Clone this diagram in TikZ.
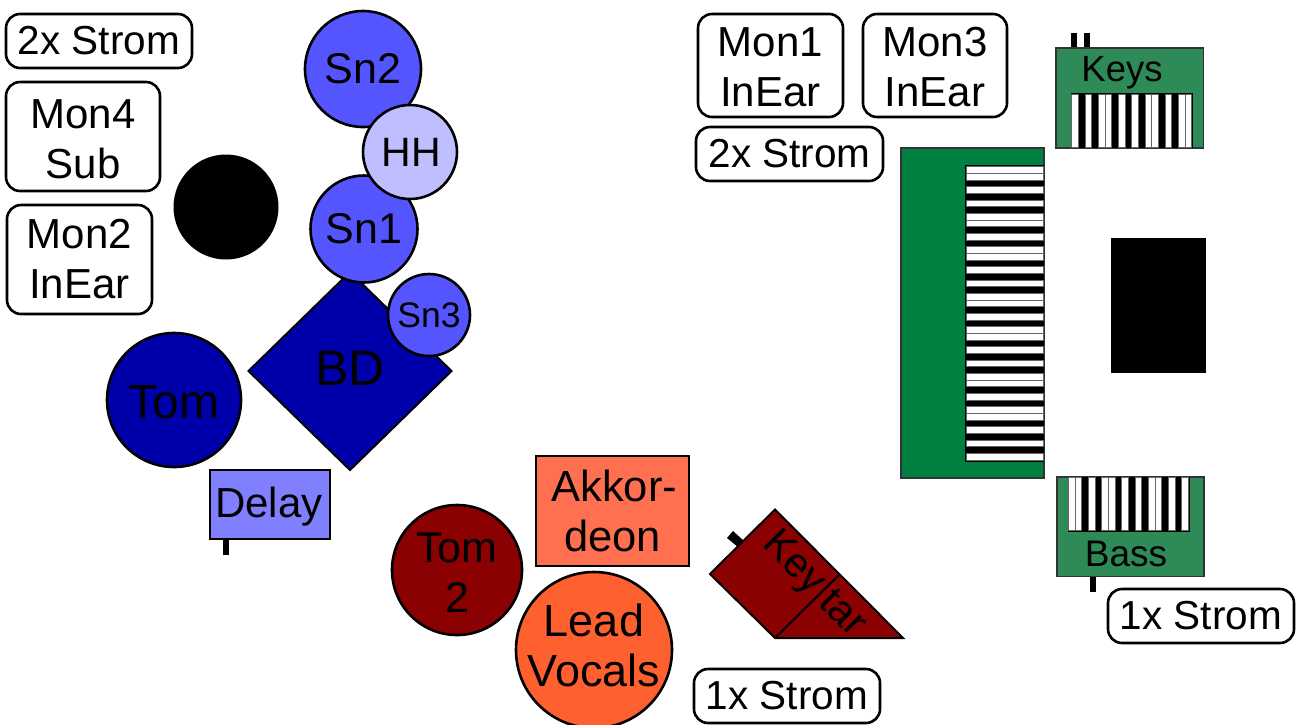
\documentclass[tikz,border=0pt]{standalone}
\usepackage{fontspec}
\setmainfont{Liberation Sans}
\usetikzlibrary{shapes.geometric}
\definecolor{snblue}{HTML}{5555FF}
\definecolor{hhblue}{HTML}{BFBFFF}
\definecolor{dkblue}{HTML}{0000AA}
\definecolor{delayblue}{HTML}{8080FF}
\definecolor{dkred}{HTML}{8B0000}
\definecolor{akk}{HTML}{FF7050}
\definecolor{lead}{HTML}{FF6030}
\definecolor{biggreen}{HTML}{008040}
\definecolor{seag}{HTML}{2E8B57}
\tikzset{
  x=1pt,y=-1pt,
  base/.style={inner sep=0pt,outer sep=0pt,align=center,text=black},
  txt/.style={base,font=\fontsize{42}{50}\selectfont},
  lbl/.style={base,draw=black,line width=2.6pt,rounded corners=14pt,fill=white,font=\fontsize{42}{50}\selectfont},
  strom/.style={lbl,font=\fontsize{40.5}{50}\selectfont,minimum height=54pt},
  drum/.style={base,circle,draw=black,line width=2.6pt,font=\fontsize{43}{50}\selectfont},
  sq/.style={base,rectangle,draw=black,line width=2pt,font=\fontsize{43}{50}\selectfont},
  green/.style={draw=black!80,line width=1.4pt},
  whitekey/.style={fill=white,draw=black!60,line width=0.8pt},
  plug/.style={fill=black,draw=none},
}
\begin{document}
\begin{tikzpicture}
\useasboundingbox (0,0) rectangle (1300,724);
% labels
\node[strom,minimum width=186pt] (s1) at (99,41) {2x Strom};
\node[lbl,minimum width=154pt,minimum height=109pt,label={[txt,yshift=-3pt]center:{Mon4\\Sub}}] (m4) at (83,136.5) {};
\node[lbl,minimum width=145pt,minimum height=109pt] (m2) at (79.5,259.5) {Mon2\\InEar};
\node[lbl,minimum width=145pt,minimum height=103pt,label={[txt,yshift=-1.5pt]center:{Mon1\\InEar}}] (m1) at (770.5,65.5) {};
\node[lbl,minimum width=144pt,minimum height=103pt,label={[txt,yshift=-1.5pt]center:{Mon3\\InEar}}] (m3) at (935,65.5) {};
\node[strom,minimum width=187pt] (s2) at (789.5,154) {2x Strom};
\node[strom,minimum width=186pt] (s3) at (1201,616) {1x Strom};
\node[strom,minimum width=186pt] (s4) at (787,696) {1x Strom};
% drums
\node[base,circle,fill=black,minimum size=105pt] (amp) at (226,207) {};
\node[drum,fill=snblue,minimum size=116pt] (sn2) at (363,69) {Sn2};
\node[base,diamond,aspect=1,draw=black,line width=2pt,fill=dkblue,minimum width=203pt,minimum height=198pt,label={[base,font=\fontsize{50}{50}\selectfont,yshift=3pt]center:BD}] (bd) at (350,371) {};
\node[drum,fill=snblue,minimum size=107pt] (sn1) at (364,229) {Sn1};
\node[drum,fill=hhblue,minimum size=94pt,label={[base,font=\fontsize{41}{40}\selectfont,xshift=1.5pt]center:HH}] (hh) at (410,152) {};
\node[drum,fill=snblue,minimum size=82pt,font=\fontsize{35.5}{36}\selectfont] (sn3) at (429,315) {Sn3};
\node[drum,fill=dkblue,minimum size=134pt,label={[base,font=\fontsize{48}{50}\selectfont,yshift=-2.5pt]center:Tom}] (tom) at (174,400) {};
% delay
\node[plug,base,fill=black,minimum width=6pt,minimum height=17pt] (dplug) at (226,546.5) {};
\node[sq,fill=delayblue,minimum width=120pt,minimum height=69pt,label={[base,font=\fontsize{42}{50}\selectfont,yshift=-2.5pt,xshift=-1pt]center:Delay}] (delay) at (270,504.5) {};
% front
\node[sq,fill=akk,minimum width=153pt,minimum height=110pt,font=\fontsize{43.5}{50}\selectfont] (akk) at (612.5,511) {\hspace{3.5pt}Akkor-\\deon};
\node[drum,fill=dkred,minimum size=130pt,label={[base,font=\fontsize{43}{50}\selectfont,yshift=-2.5pt]center:{Tom\\2}}] (tom2) at (457,570) {};
\node[drum,fill=lead,minimum size=156pt,label={[base,font=\fontsize{45}{50}\selectfont,yshift=5pt]center:{Lead\\Vocals}}] (lv) at (594,650) {};
% keytar
\draw[plug,line width=0pt] (727,538) -- (733,531) -- (744,541) -- (738,547) -- cycle;
\coordinate (ka) at (775,509.5);
\coordinate (kb) at (710,574);
\coordinate (kc) at (775,638);
\coordinate (kd) at (903,638);
\coordinate (ke) at (839,575);
\draw[fill=dkred,draw=black,line width=2pt] (ka) -- (kb) -- (kc) -- (kd) -- cycle;
\draw[black,line width=2pt] (kc) -- (ke);
\node[base,rotate=-45,font=\fontsize{41}{40}\selectfont] (key) at (793,564) {Key};
\node[base,rotate=-45,font=\fontsize{41}{40}\selectfont] (tar) at (844,612) {tar};
% big keyboard
\draw[green,fill=biggreen] (901,148) rectangle (1044,478);
\fill[black] (964.5,165) rectangle (1044,462);
\foreach \i in {0,1,3,5,7,8,10,12,13,15,17,19,20,22,24,25,27,29,31,32,34,36,37,39,41,43}
  \draw[whitekey] (966,{166.7+\i*6.667}) rectangle (1043,{166.7+(\i+1)*6.667});
% keys
\fill[plug] (1071,33) rectangle (1077,48);
\fill[plug] (1084,33) rectangle (1090,48);
\draw[green,fill=seag] (1056,48) rectangle (1203.5,148);
\fill[black] (1070.5,93) rectangle (1193,148);
\foreach \i in {0,2,4,5,7,9,11,12,14,16,17}
  \draw[whitekey] ({1071.7+\i*6.667},94.5) rectangle ({1071.7+(\i+1)*6.667},147);
\node[base,font=\fontsize{36.5}{36}\selectfont] (keys) at (1122,73) {Keys};
% bass
\fill[plug] (1090,576) rectangle (1096,592);
\draw[green,fill=seag] (1057,477) rectangle (1204,576.5);
\fill[black] (1067.5,477) rectangle (1190,531.5);
\foreach \i in {0,1,3,5,6,8,10,12,13,15,17}
  \draw[whitekey] ({1068.3+\i*6.667},477) rectangle ({1068.3+(\i+1)*6.667},530);
\node[base,font=\fontsize{37}{36}\selectfont] (bass) at (1126,554) {Bass};
% amp
\fill[black] (1111,238) rectangle (1206,373);
\end{tikzpicture}
\end{document}
